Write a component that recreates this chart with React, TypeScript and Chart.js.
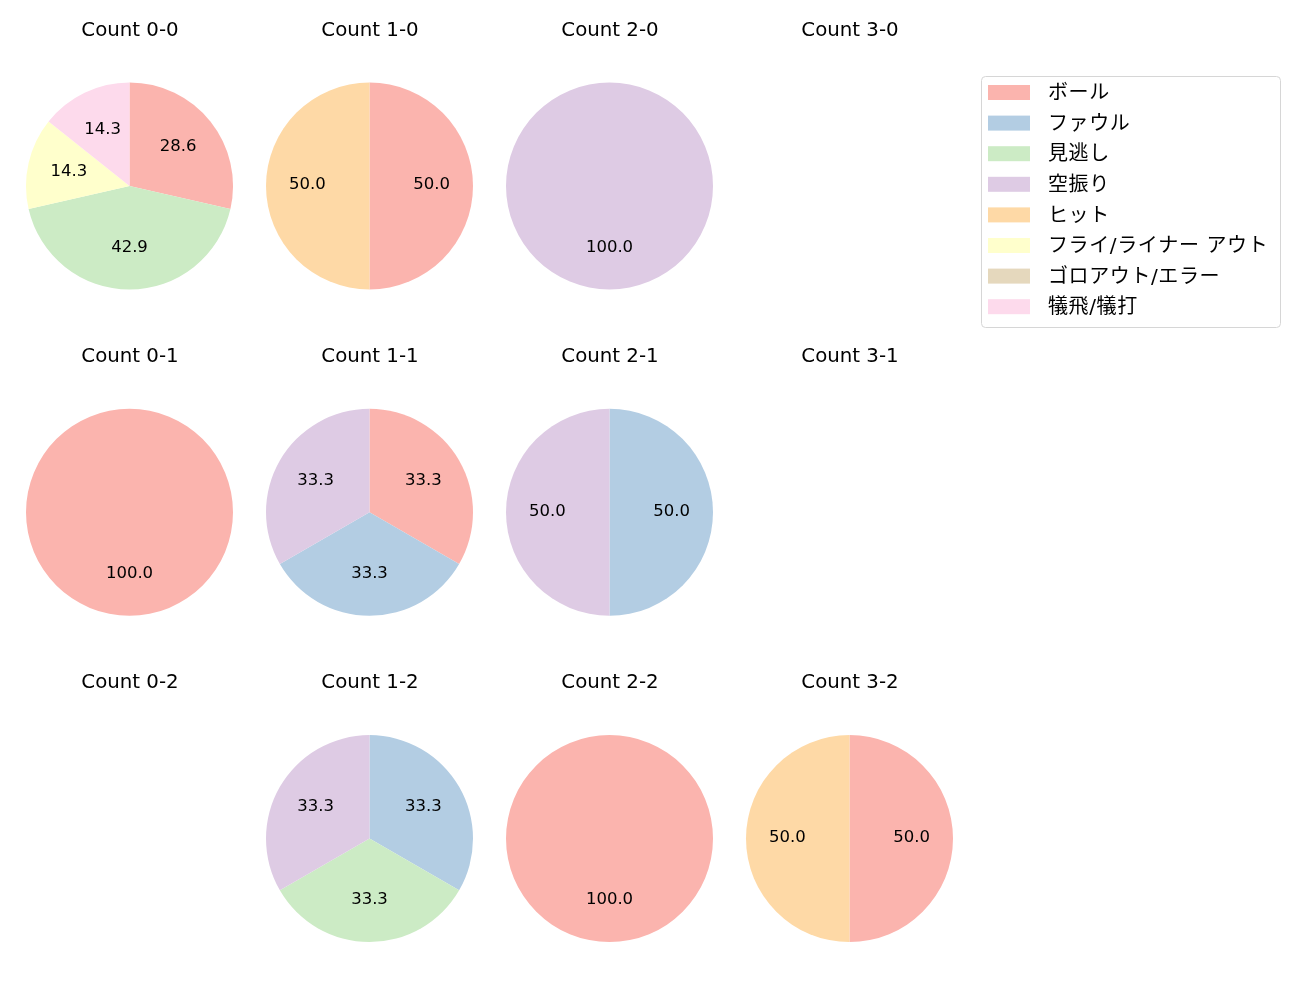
import React, { useEffect, useRef } from "react";
import { Chart, registerables } from "chart.js";

Chart.register(...registerables);

const CATEGORIES = ["ボール", "ファウル", "見逃し", "空振り", "ヒット", "フライ/ライナー アウト", "ゴロアウト/エラー", "犠飛/犠打"];
const COLORS = ["#fbb4ae", "#b3cde3", "#ccebc5", "#decbe4", "#fed9a6", "#ffffcc", "#e5d8bd", "#fddaec"];

const COUNT_TITLES = [
  ["Count 0-0", "Count 1-0", "Count 2-0", "Count 3-0"],
  ["Count 0-1", "Count 1-1", "Count 2-1", "Count 3-1"],
  ["Count 0-2", "Count 1-2", "Count 2-2", "Count 3-2"],
];

// counts per category (order as CATEGORIES)
const C00 = [2, 0, 3, 0, 0, 1, 0, 1];
const C10 = [1, 0, 0, 0, 1, 0, 0, 0];
const C20 = [0, 0, 0, 1, 0, 0, 0, 0];
const C30 = [0, 0, 0, 0, 0, 0, 0, 0];
const C01 = [1, 0, 0, 0, 0, 0, 0, 0];
const C11 = [1, 1, 0, 1, 0, 0, 0, 0];
const C21 = [0, 1, 0, 1, 0, 0, 0, 0];
const C31 = [0, 0, 0, 0, 0, 0, 0, 0];
const C02 = [0, 0, 0, 0, 0, 0, 0, 0];
const C12 = [0, 1, 1, 1, 0, 0, 0, 0];
const C22 = [1, 0, 0, 0, 0, 0, 0, 0];
const C32 = [1, 0, 0, 0, 1, 0, 0, 0];

const GRID = [
  [C00, C10, C20, C30],
  [C01, C11, C21, C31],
  [C02, C12, C22, C32],
];

const LATIN_FONT = "'DejaVu Sans', 'Noto Sans CJK JP', sans-serif";
const CJK_FONT = "'DejaVu Sans', 'Noto Sans CJK JP', sans-serif";
const CX0 = 129.5, DX = 240;
const CY0 = 186, DY = 326.3;
const R = 103.5;
const CW = 240, CH = 300;

const titlePctPlugin = {
  id: "titlePct",
  afterDatasetsDraw(chart: any) {
    const ctx = chart.ctx;
    const opts = chart.options.plugins.titlePct;
    const meta = chart.getDatasetMeta(0);
    const data = chart.data.datasets[0].data as number[];
    const total = data.reduce((a, b) => a + b, 0);
    ctx.save();
    ctx.fillStyle = "#000";
    ctx.textAlign = "center";
    ctx.textBaseline = "middle";
    ctx.font = `16.5px ${LATIN_FONT}`;
    if (total > 0) {
      meta.data.forEach((arc: any, i: number) => {
        if (!data[i]) return;
        const mid = (arc.startAngle + arc.endAngle) / 2;
        const r = arc.outerRadius * 0.6;
        const x = arc.x + Math.cos(mid) * r;
        const y = arc.y + Math.sin(mid) * r - 0.8;
        ctx.fillText(((data[i] / total) * 100).toFixed(1), x, y);
      });
    }
    ctx.font = `19.8px ${LATIN_FONT}`;
    ctx.fillText(opts.title, CW / 2, opts.titleY);
    ctx.restore();
  },
};

const legendPlugin = {
  id: "customLegend",
  afterDraw(chart: any) {
    const ctx = chart.ctx;
    ctx.save();
    const x0 = 0.5, y0 = 0.5, w = 299, h = 251;
    const rr = 4;
    ctx.beginPath();
    ctx.moveTo(x0 + rr, y0);
    ctx.lineTo(x0 + w - rr, y0);
    ctx.quadraticCurveTo(x0 + w, y0, x0 + w, y0 + rr);
    ctx.lineTo(x0 + w, y0 + h - rr);
    ctx.quadraticCurveTo(x0 + w, y0 + h, x0 + w - rr, y0 + h);
    ctx.lineTo(x0 + rr, y0 + h);
    ctx.quadraticCurveTo(x0, y0 + h, x0, y0 + h - rr);
    ctx.lineTo(x0, y0 + rr);
    ctx.quadraticCurveTo(x0, y0, x0 + rr, y0);
    ctx.closePath();
    ctx.fillStyle = "rgba(255,255,255,0.8)";
    ctx.fill();
    ctx.strokeStyle = "#d6d6d6";
    ctx.lineWidth = 1;
    ctx.stroke();
    ctx.font = `20px ${CJK_FONT}`;
    (ctx as any).letterSpacing = "0.6px";
    ctx.textBaseline = "middle";
    ctx.textAlign = "left";
    const labels = chart.data.labels as string[];
    labels.forEach((lab: string, i: number) => {
      const yc = 16.5 + i * 30.6;
      ctx.fillStyle = COLORS[i];
      ctx.fillRect(7, yc - 7.5, 42, 15);
      ctx.fillStyle = "#000";
      ctx.fillText(lab, 67, yc + 1.5);
    });
    ctx.restore();
  },
};

function Pie({ values, title, cx, cy }: { values: number[]; title: string; cx: number; cy: number }) {
  const ref = useRef<HTMLCanvasElement>(null);
  const left = Math.round(cx - CW / 2);
  const top = Math.round(cy - 186);
  useEffect(() => {
    const lcx = cx - left, lcy = cy - top;
    const chart = new Chart(ref.current!, {
      type: "pie",
      data: {
        labels: CATEGORIES,
        datasets: [{ data: values, backgroundColor: COLORS, borderWidth: 0 }],
      },
      options: {
        responsive: false,
        animation: false,
        events: [],
        layout: {
          padding: { left: lcx - R, right: CW - (lcx + R), top: lcy - R, bottom: CH - (lcy + R) },
        },
        plugins: {
          legend: { display: false },
          tooltip: { enabled: false },
          titlePct: { title, titleY: lcy - 155.5 },
        } as any,
      },
      plugins: [titlePctPlugin],
    });
    return () => chart.destroy();
  }, []);
  return <canvas ref={ref} width={CW} height={CH} style={{ position: "absolute", left, top, width: CW, height: CH }} />;
}

function Legend() {
  const ref = useRef<HTMLCanvasElement>(null);
  useEffect(() => {
    const chart = new Chart(ref.current!, {
      type: "pie",
      data: { labels: CATEGORIES, datasets: [{ data: CATEGORIES.map(() => 0), backgroundColor: COLORS }] },
      options: {
        responsive: false,
        animation: false,
        events: [],
        plugins: { legend: { display: false }, tooltip: { enabled: false } },
      },
      plugins: [legendPlugin],
    });
    return () => chart.destroy();
  }, []);
  return <canvas ref={ref} width={302} height={254} style={{ position: "absolute", left: 981, top: 76, width: 302, height: 254 }} />;
}

export default function App() {
  useEffect(() => {
    document.body.style.margin = "0";
  }, []);
  const pies: any[] = [];
  GRID.forEach((row, j) =>
    row.forEach((vals, i) => {
      pies.push(<Pie key={`${i}-${j}`} values={vals} title={COUNT_TITLES[j][i]} cx={CX0 + DX * i} cy={CY0 + DY * j} />);
    })
  );
  return (
    <div style={{ position: "absolute", left: 0, top: 0, width: 1300, height: 1000, background: "#fff", overflow: "hidden" }}>
      {pies}
      <Legend />
    </div>
  );
}
